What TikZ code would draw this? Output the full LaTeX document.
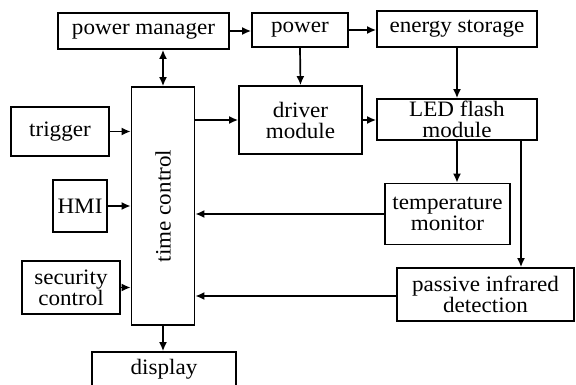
\documentclass[tikz,border=0pt]{standalone}
\usepackage{fontspec}
\setmainfont[FakeStretch=1.05]{Liberation Serif}
\usetikzlibrary{arrows.meta}
\begin{document}
\begin{tikzpicture}[x=1pt,y=-1pt,
  box/.style={draw,line width=1.7pt,inner sep=0pt,align=center,
    font=\fontsize{22}{21}\selectfont},
  arr/.style={line width=1.7pt,-{Latex[length=9pt,width=8pt]}},
  biarr/.style={line width=1.7pt,{Latex[length=9pt,width=8pt]}-{Latex[length=9pt,width=8pt]}}]
\useasboundingbox (0,0) rectangle (576,385);
\clip (0,0) rectangle (576,385);
\node[box,minimum width=171pt,minimum height=36pt] (pm) at (143.5,31) {power manager};
\node[box,minimum width=96pt,minimum height=34pt] (pw) at (300,30) {power};
\node[box,minimum width=160pt,minimum height=36pt] (es) at (457,29) {energy storage};
\node[box,minimum width=123pt,minimum height=68pt] (drv) at (300.5,120) {driver\\module};
\node[box,minimum width=160pt,minimum height=41pt] (led) at (457,119.5) {LED flash\\module};
\node[box,minimum width=63pt,minimum height=238pt] (tc) at (163,206) {};
\node[font=\fontsize{22}{21}\selectfont,rotate=90] (tct) at (tc.center) {time control};
\node[box,minimum width=98pt,minimum height=49pt] (trig) at (60,131.5) {trigger};
\node[box,minimum width=54pt,minimum height=52pt] (hmi) at (80,206) {HMI};
\node[box,minimum width=98pt,minimum height=53pt] (sec) at (71,287.5) {security\\control};
\node[box,minimum width=144pt,minimum height=34pt] (disp) at (164,369) {display};
\node[box,minimum width=125pt,minimum height=61pt] (tm) at (447.5,214) {temperature\\monitor};
\node[box,minimum width=177pt,minimum height=53pt] (pir) at (485.5,294.5) {passive infrared\\detection};
\coordinate (ledr) at ([xshift=64pt]led.south);
\draw[arr] (pm.east) -- (pm.east -| pw.west);
\draw[arr] (pw.east) -- (pw.east -| es.west);
\draw[biarr] (tc.north) -- (tc.north |- pm.south);
\draw[arr] (pw.south) -- (drv.north);
\draw[arr] (es.south) -- (es.south |- led.north);
\draw[arr] (drv.east) -- (drv.east -| led.west);
\draw[arr] (tc.east |- drv.west) -- (drv.west);
\draw[arr] (trig.east) -- (trig.east -| tc.west);
\draw[arr] (hmi.east) -- (hmi.east -| tc.west);
\draw[arr] (sec.east) -- (sec.east -| tc.west);
\draw[arr] (led.south) -- (led.south |- tm.north);
\draw[arr] (ledr) -- (ledr |- pir.north);
\draw[arr] (tm.west) -- (tm.west -| tc.east);
\draw[arr] ([yshift=-1.5pt]pir.west) -- ([yshift=-1.5pt]pir.west -| tc.east);
\draw[arr] (tc.south) -- (tc.south |- disp.north);
\end{tikzpicture}
\end{document}
